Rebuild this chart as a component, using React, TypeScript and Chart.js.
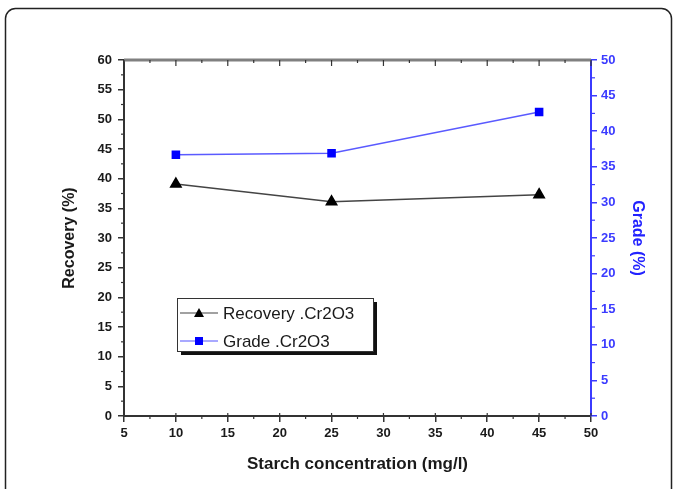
import React, { useEffect, useRef } from "react";
import { Chart, registerables } from "chart.js";

Chart.register(...registerables);

const concentrations = [10, 25, 45];
const recovery = [39.1, 36.1, 37.3];
const grade = [36.7, 36.9, 42.7];

const xTitle = "Starch concentration (mg/l)";
const yTitle = "Recovery (%)";
const y1Title = "Grade (%)";
const legendLabels = ["Recovery .Cr2O3", "Grade .Cr2O3"];

const FONT = "'Liberation Sans', Arial, sans-serif";
const BLUE_AXIS = "#3b3bff";

const decorPlugin = {
  id: "decor",
  beforeDraw(chart: any) {
    const ctx = chart.ctx;
    ctx.save();
    ctx.fillStyle = "#fff";
    ctx.fillRect(0, 0, chart.width, chart.height);
    ctx.restore();
  },
  afterDraw(chart: any) {
    const ctx = chart.ctx;
    const ca = chart.chartArea;
    const xs = chart.scales.x;
    const ys = chart.scales.y;
    const y1 = chart.scales.y1;
    ctx.save();
    // frame
    ctx.strokeStyle = "#222";
    ctx.lineWidth = 1.5;
    ctx.beginPath();
    (ctx as any).roundRect(5.5, 8.5, 666, 520, 10);
    ctx.stroke();

    // top axis
    ctx.strokeStyle = "#808080";
    ctx.lineWidth = 3;
    ctx.beginPath();
    ctx.moveTo(ca.left, ca.top);
    ctx.lineTo(ca.right, ca.top);
    ctx.stroke();
    ctx.strokeStyle = "#333";
    ctx.lineWidth = 1.2;
    for (let v = 5; v <= 50.001; v += 2.5) {
      const px = xs.getPixelForValue(v);
      const major = Math.abs(v % 5) < 0.01;
      ctx.beginPath();
      ctx.moveTo(px, ca.top);
      ctx.lineTo(px, ca.top + (major ? 6 : 3));
      ctx.stroke();
    }
    // bottom: majors poke slightly inside, minors outward
    for (let v = 5; v <= 50.001; v += 5) {
      const px = xs.getPixelForValue(v);
      ctx.beginPath();
      ctx.moveTo(px, ca.bottom);
      ctx.lineTo(px, ca.bottom - 3);
      ctx.stroke();
    }
    for (let v = 7.5; v < 50; v += 5) {
      const px = xs.getPixelForValue(v);
      ctx.beginPath();
      ctx.moveTo(px, ca.bottom);
      ctx.lineTo(px, ca.bottom + 3);
      ctx.stroke();
    }
    // left minor ticks
    for (let v = 2.5; v < 60; v += 5) {
      const py = ys.getPixelForValue(v);
      ctx.beginPath();
      ctx.moveTo(ca.left, py);
      ctx.lineTo(ca.left - 3, py);
      ctx.stroke();
    }
    // right minor ticks
    ctx.strokeStyle = BLUE_AXIS;
    for (let v = 2.5; v < 50; v += 5) {
      const py = y1.getPixelForValue(v);
      ctx.beginPath();
      ctx.moveTo(ca.right, py);
      ctx.lineTo(ca.right + 4, py);
      ctx.stroke();
    }

    // legend
    const lx = 177, ly = 298, lw = 196, lh = 53;
    ctx.fillStyle = "#111";
    ctx.fillRect(lx + 4, ly + 4, lw, lh);
    ctx.fillStyle = "#fff";
    ctx.fillRect(lx, ly, lw, lh);
    ctx.strokeStyle = "#333";
    ctx.lineWidth = 1;
    ctx.strokeRect(lx + 0.5, ly + 0.5, lw, lh);

    const rows = [
      { y: ly + 15, color: "#444", mark: "#000", tri: true, label: legendLabels[0] },
      { y: ly + 43, color: "#5555ff", mark: "#0000ff", tri: false, label: legendLabels[1] },
    ];
    for (const r of rows) {
      ctx.strokeStyle = r.color;
      ctx.lineWidth = 1.2;
      ctx.beginPath();
      ctx.moveTo(lx + 3, r.y);
      ctx.lineTo(lx + 41, r.y);
      ctx.stroke();
      ctx.fillStyle = r.mark;
      const cx = lx + 22;
      if (r.tri) {
        ctx.beginPath();
        ctx.moveTo(cx, r.y - 5);
        ctx.lineTo(cx + 5, r.y + 4);
        ctx.lineTo(cx - 5, r.y + 4);
        ctx.closePath();
        ctx.fill();
      } else {
        ctx.fillRect(cx - 4, r.y - 4, 8, 8);
      }
      ctx.fillStyle = "#1a1a1a";
      ctx.font = `17px ${FONT}`;
      ctx.textBaseline = "middle";
      ctx.textAlign = "left";
      ctx.fillText(r.label, lx + 46, r.y + 1);
    }
    ctx.restore();
  },
};

export default function App() {
  const ref = useRef<HTMLCanvasElement>(null);
  useEffect(() => {
    if (!ref.current) return;
    const chart = new Chart(ref.current, {
      type: "line",
      data: {
        datasets: [
          {
            label: legendLabels[0],
            data: concentrations.map((c, i) => ({ x: c, y: recovery[i] })),
            borderColor: "#444",
            backgroundColor: "#000",
            borderWidth: 1.5,
            pointStyle: "triangle",
            pointRadius: 6,
            pointBorderColor: "#000",
            pointBackgroundColor: "#000",
            yAxisID: "y",
          },
          {
            label: legendLabels[1],
            data: concentrations.map((c, i) => ({ x: c, y: grade[i] })),
            borderColor: "#5a5aff",
            backgroundColor: "#0000ff",
            borderWidth: 1.5,
            pointStyle: "rect",
            pointRadius: 5,
            pointBorderColor: "#0000ff",
            pointBackgroundColor: "#0000ff",
            yAxisID: "y1",
          },
        ],
      },
      options: {
        responsive: false,
        animation: false,
        layout: { padding: { top: 60, left: 0, right: 0, bottom: 0 } },
        plugins: { legend: { display: false }, tooltip: { enabled: false } },
        scales: {
          x: {
            type: "linear",
            position: "bottom",
            min: 5,
            max: 50,
            ticks: {
              stepSize: 5,
              font: { family: FONT, size: 13, weight: "bold" },
              color: "#1a1a1a",
              padding: 4,
            },
            grid: { drawOnChartArea: false, drawTicks: true, tickLength: 6, color: "#333", lineWidth: 1.5 },
            border: { color: "#333", width: 2 },
            title: {
              display: true,
              text: xTitle,
              font: { family: FONT, size: 17, weight: "bold" },
              color: "#1a1a1a",
              padding: { top: 0, bottom: 14 },
            },
            afterFit: (s: any) => { s.height = 73; },
          },
          y: {
            type: "linear",
            position: "left",
            min: 0,
            max: 60,
            ticks: {
              stepSize: 5,
              font: { family: FONT, size: 13, weight: "bold" },
              color: "#1a1a1a",
              padding: 6,
            },
            grid: { drawOnChartArea: false, drawTicks: true, tickLength: 6, color: "#333", lineWidth: 1.5 },
            border: { color: "#333", width: 2 },
            title: {
              display: true,
              text: yTitle,
              font: { family: FONT, size: 16, weight: "bold" },
              color: "#1a1a1a",
              padding: { top: 60, bottom: 0 },
            },
            afterFit: (s: any) => { s.width = 124; },
          },
          y1: {
            type: "linear",
            position: "right",
            min: 0,
            max: 50,
            ticks: {
              stepSize: 5,
              font: { family: FONT, size: 13, weight: "bold" },
              color: BLUE_AXIS,
              padding: 4,
            },
            grid: { drawOnChartArea: false, drawTicks: true, tickLength: 6, color: BLUE_AXIS, lineWidth: 1.5 },
            border: { color: BLUE_AXIS, width: 2 },
            title: {
              display: true,
              text: y1Title,
              font: { family: FONT, size: 16, weight: "bold" },
              color: "#2222ff",
              padding: { top: 31, bottom: 0 },
            },
            afterFit: (s: any) => { s.width = 87; },
          },
        },
      } as any,
      plugins: [decorPlugin],
    });
    return () => chart.destroy();
  }, []);
  return (
    <div style={{ position: "fixed", left: 0, top: 0, width: 678, height: 489, background: "#fff" }}>
      <canvas ref={ref} width={678} height={489} style={{ display: "block" }} />
    </div>
  );
}
